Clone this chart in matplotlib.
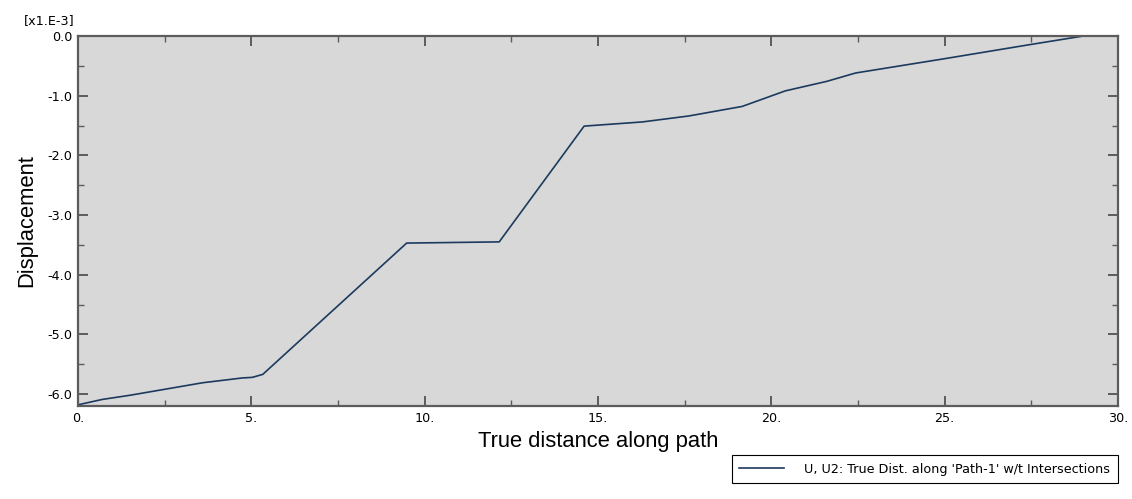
import matplotlib
matplotlib.use("Agg")
import matplotlib.pyplot as plt
from matplotlib.ticker import MultipleLocator

# dati (spostamento in unita' x1.E-3)
distanza = [0.0, 0.7, 1.5, 2.5, 3.6, 4.74, 5.03, 5.33, 9.48, 12.15,
            14.6, 16.28, 17.62, 19.16, 20.4, 21.6, 22.43, 25.0, 27.4, 29.0]
spostamento = [-6.18, -6.09, -6.02, -5.92, -5.81, -5.73, -5.72, -5.67, -3.47, -3.45,
               -1.51, -1.44, -1.34, -1.18, -0.92, -0.76, -0.62, -0.38, -0.15, 0.0]

x_ticks = [0, 5, 10, 15, 20, 25, 30]
x_labels = ["0.", "5.", "10.", "15.", "20.", "25.", "30."]
y_ticks = [0, -1, -2, -3, -4, -5, -6]
y_labels = ["0.0", "-1.0", "-2.0", "-3.0", "-4.0", "-5.0", "-6.0"]

grigio = "#5c5c5c"

fig = plt.figure(figsize=(11.32, 4.99), dpi=100)
ax = fig.add_axes([78 / 1132, 1 - 406 / 499, 1040 / 1132, 370 / 499])
ax.set_facecolor("#d8d8d8")

ax.plot(distanza, spostamento, color="#1c3a5e", linewidth=1.2,
        label="U, U2: True Dist. along 'Path-1' w/t Intersections")

ax.set_xlim(0, 30)
ax.set_ylim(-6.2, 0)
ax.set_xticks(x_ticks)
ax.set_xticklabels(x_labels)
ax.set_yticks(y_ticks)
ax.set_yticklabels(y_labels)
ax.xaxis.set_minor_locator(MultipleLocator(2.5))
ax.yaxis.set_minor_locator(MultipleLocator(0.5))

for s in ax.spines.values():
    s.set_color(grigio)
    s.set_linewidth(1.6)

ax.tick_params(which="both", direction="in", top=True, right=True,
               color=grigio, labelcolor="black", labelsize=9.2)
ax.tick_params(which="major", length=7, width=1.4, pad=4)
ax.tick_params(which="minor", length=4, width=1.0)

ax.set_xlabel("True distance along path", fontfamily="Liberation Sans",
              fontsize=15.8, labelpad=5)
ax.set_ylabel("Displacement", fontfamily="Liberation Sans", fontsize=15.8,
              labelpad=7)

fig.text(24 / 1132, 1 - 21 / 499, "[x1.E-3]", fontsize=9.2, va="center")

leg = fig.legend(loc="upper right", bbox_to_anchor=(1118 / 1132, 1 - 455 / 499),
                 fontsize=9.2, frameon=True, fancybox=False, framealpha=1,
                 edgecolor="black", handlelength=3.5, handletextpad=1.6,
                 borderpad=0.6, borderaxespad=0)
leg.get_frame().set_linewidth(0.8)

fig.savefig("out.png", dpi=100)
